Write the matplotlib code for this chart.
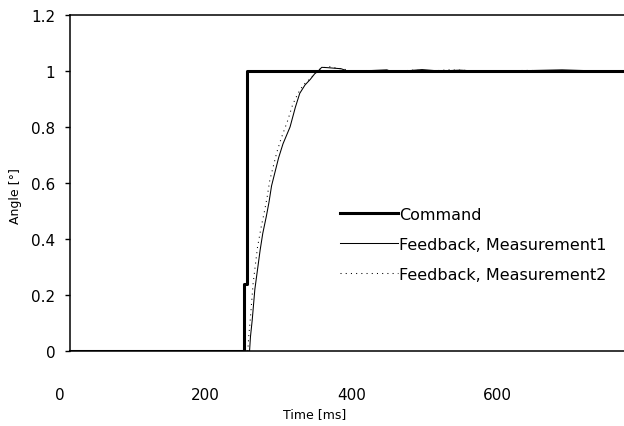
import matplotlib.pyplot as plt

plt.rcParams['font.family'] = ['DejaVu Sans']

# step command
cmd_t = [0, 198, 198, 201, 201, 700]
cmd_v = [0, 0, 0.24, 0.24, 1, 1]

# feedback, measurement 1
fb1_t = [0, 204, 205, 207, 210, 216, 219, 223, 226, 229, 233, 237, 242, 250, 256,
         261, 267, 273, 278, 282, 286, 292, 300, 308, 315, 330, 360, 367, 380, 400,
         420, 443, 460, 500, 559, 600, 700]
fb1_v = [0, 0, 0.05, 0.11, 0.22, 0.36, 0.42, 0.48, 0.53, 0.59, 0.64, 0.69, 0.74, 0.80, 0.87,
         0.92, 0.95, 0.97, 0.99, 1.0, 1.013, 1.012, 1.01, 1.008, 1.0, 1.0, 1.004, 0.996, 1.0, 1.005,
         1.0, 1.003, 1.0, 1.0, 1.004, 1.0, 1.0]

# feedback, measurement 2
fb2_t = [0, 202, 203, 205, 208, 213, 217, 221, 224, 227, 231, 235, 240, 247, 253,
         259, 265, 272, 278, 283, 288, 295, 303, 312, 320, 340, 365, 390, 410, 430,
         470, 520, 560, 600, 700]
fb2_v = [0, 0, 0.05, 0.12, 0.24, 0.37, 0.44, 0.50, 0.55, 0.61, 0.66, 0.71, 0.76, 0.82, 0.88,
         0.92, 0.95, 0.97, 0.99, 1.005, 1.012, 1.015, 1.01, 1.006, 1.0, 1.002, 0.998, 1.003, 1.0, 1.004,
         1.0, 1.002, 1.0, 1.0, 1.0]

xticks = [0, 200, 400, 600]
yticks = [0, 0.2, 0.4, 0.6, 0.8, 1, 1.2]
ytick_labels = ['0', '0.2', '0.4', '0.6', '0.8', '1', '1.2']

fig = plt.figure(figsize=(6.24, 4.27), dpi=100)
ax = fig.add_axes([0.084, 0.1756, 0.945, 0.787])

ax.plot(cmd_t, cmd_v, color='black', lw=2.2, label='Command', zorder=2)
ax.plot(fb1_t, fb1_v, color='black', lw=0.75, label='Feedback, Measurement1', zorder=3)
ax.plot(fb2_t, fb2_v, color='black', lw=0.75, linestyle=(0, (1, 4)),
        label='Feedback, Measurement2', zorder=3)

ax.set_xlim(-20, 650)
ax.set_ylim(0, 1.2)

ax.spines['left'].set_position(('data', 0))
ax.spines['right'].set_visible(False)
ax.spines['bottom'].set_bounds(0, 650)
ax.spines['top'].set_bounds(0, 650)
for s in ['left', 'bottom', 'top']:
    ax.spines[s].set_linewidth(1.1)

ax.set_yticks(yticks)
ax.set_yticklabels(ytick_labels)
ax.tick_params(axis='y', direction='out', length=3.5, width=1, pad=7, labelsize=11)
ax.set_xticks([])

# x labels sit on their own scale, as in the source picture
sec = ax.secondary_xaxis('bottom', functions=(lambda t: 13.73 + 1.2083 * t,
                                              lambda L: (L - 13.73) / 1.2083))
sec.spines['bottom'].set_visible(False)
sec.set_xticks(xticks)
sec.tick_params(axis='x', length=0, pad=26, labelsize=11)

ax.set_xlabel('Time [ms]', fontsize=9)
ax.xaxis.set_label_coords(0.445, -0.167)
ax.set_ylabel('Angle [°]', fontsize=9)
ax.yaxis.set_label_coords(-0.052, 0.464)

ax.legend(loc='upper left', bbox_to_anchor=(0.545, 0.514), bbox_transform=fig.transFigure,
          frameon=False, fontsize=11.5, handlelength=3.6, handletextpad=0.1,
          labelspacing=0.95, borderpad=0, borderaxespad=0)

fig.savefig('out.png', dpi=100)
